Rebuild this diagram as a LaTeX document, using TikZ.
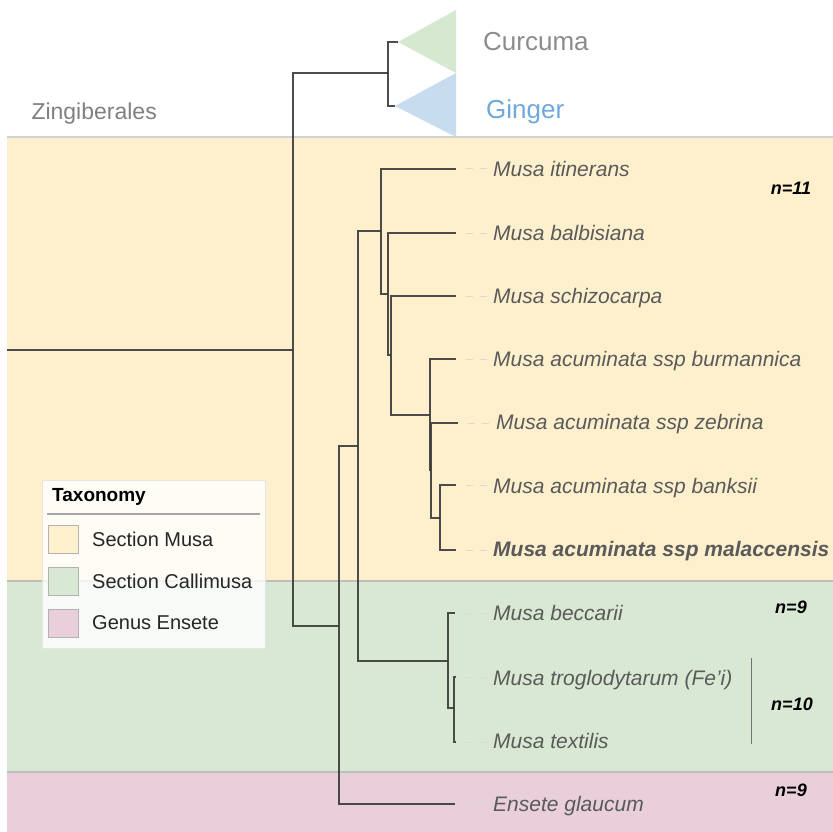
\documentclass[tikz,border=0pt]{standalone}
\usepackage{fontspec}
\setmainfont{Liberation Sans}
\definecolor{bandY}{HTML}{FEF0CD}
\definecolor{bandG}{HTML}{D9E8D3}
\definecolor{bandP}{HTML}{E8CFDA}
\definecolor{bandLine}{HTML}{BDBDBD}
\definecolor{treeC}{HTML}{3A3A3A}
\definecolor{labC}{HTML}{5A5A5A}
\definecolor{triG}{HTML}{D5E8D0}
\definecolor{triB}{HTML}{C8DCF0}
\definecolor{curC}{HTML}{8C8C8C}
\definecolor{ginC}{HTML}{6FA8DC}
\tikzset{
  br/.style={draw=treeC,line width=1.2pt,opacity=0.9},
  leader/.style={draw=black!15,line width=1pt,dash pattern=on 7pt off 7pt},
  leaf/.style={anchor=base west,inner sep=0pt,text=labC,font=\fontsize{21}{24}\selectfont\itshape},
  nlab/.style={inner sep=0pt,font=\fontsize{18}{20}\selectfont\bfseries\itshape},
  legtxt/.style={anchor=west,inner sep=0pt,font=\fontsize{20}{22}\selectfont,text=black!85},
  swatch/.style={draw=black!30,line width=1pt}
}
\begin{document}
\begin{tikzpicture}[x=1pt,y=-1pt]
\useasboundingbox (0,0) rectangle (833,832);
\fill[white] (0,0) rectangle (833,832);
% bands
\fill[bandY] (7,137) rectangle (833,581);
\fill[bandG] (7,581) rectangle (833,772);
\fill[bandP] (7,772) rectangle (833,832);
\draw[bandLine!70,line width=2pt] (7,137) -- (833,137);
\draw[bandLine,line width=2pt] (7,581) -- (833,581);
\draw[bandLine,line width=2pt] (7,772) -- (833,772);
\node[anchor=base east,inner sep=0pt,text=black!50,font=\fontsize{23}{25}\selectfont] (zing) at (157,120) {Zingiberales};
% triangles
\coordinate (tC) at (398,42);
\coordinate (tG) at (395,106);
\fill[triG] (tC) -- (456,10) -- (456,73) -- cycle;
\fill[triB] (tG) -- (456,73) -- (456,137) -- cycle;
\node[anchor=base west,inner sep=0pt,text=curC,font=\fontsize{26}{28}\selectfont] (cur) at (483,51) {Curcuma};
\node[anchor=base west,inner sep=0pt,text=ginC,font=\fontsize{26}{28}\selectfont] (gin) at (486,119) {Ginger};
% tree coordinates
\coordinate (R0) at (7,350);
\coordinate (N1) at (293,350);
\coordinate (Z) at (388,73);
\coordinate (M) at (339,626);
\coordinate (N2) at (358,446);
\coordinate (A) at (381,231);
\coordinate (B) at (388,294);
\coordinate (B2) at (391,355);
\coordinate (AC) at (430,415);
\coordinate (AC2) at (431,470);
\coordinate (AC3) at (440,518);
\coordinate (C) at (448,661);
\coordinate (C2) at (454,708);
\coordinate (l1) at (456,169);
\coordinate (l2) at (456,233);
\coordinate (l3) at (456,296);
\coordinate (l4) at (456,359);
\coordinate (l5) at (458,423);
\coordinate (l6) at (456,485);
\coordinate (l7) at (456,550);
\coordinate (l8) at (455,613);
\coordinate (l9) at (456,677);
\coordinate (l10) at (456,742);
\coordinate (l11) at (455,804);
% branches
\draw[br] (R0) -- (N1);
\draw[br] (N1) |- (Z);
\draw[br] (N1) |- (M);
\draw[br] (Z) |- (tC);
\draw[br] (Z) |- (tG);
\draw[br] (M) |- (N2);
\draw[br] (M) |- (l11);
\draw[br] (N2) |- (A);
\draw[br] (N2) |- (C);
\draw[br] (A) |- (l1);
\draw[br] (A) |- (B);
\draw[br] (B) |- (l2);
\draw[br] (B) |- (B2);
\draw[br] (B2) |- (l3);
\draw[br] (B2) |- (AC);
\draw[br] (AC) |- (l4);
\draw[br] (AC) |- (AC2);
\draw[br] (AC2) |- (l5);
\draw[br] (AC2) |- (AC3);
\draw[br] (AC3) |- (l6);
\draw[br] (AC3) |- (l7);
\draw[br] (C) |- (l8);
\draw[br] (C) |- (C2);
\draw[br] (C2) |- (l9);
\draw[br] (C2) |- (l10);
% leaders
\foreach \l in {l1,l2,l3,l4,l5,l6,l7,l8,l9,l10,l11}
  \draw[leader] ([xshift=10pt]\l) -- ++(26,0);
% labels
\node[leaf] (t1) at (493,176) {Musa itinerans};
\node[leaf] (t2) at (493,240) {Musa balbisiana};
\node[leaf] (t3) at (493,303) {Musa schizocarpa};
\node[leaf] (t4) at (493,366) {Musa acuminata ssp burmannica};
\node[leaf] (t5) at (496,429) {Musa acuminata ssp zebrina};
\node[leaf] (t6) at (493,493) {Musa acuminata ssp banksii};
\node[leaf,font=\fontsize{21}{24}\selectfont\bfseries\itshape] (t7) at (493,556) {Musa acuminata ssp malaccensis};
\node[leaf] (t8) at (493,620) {Musa beccarii};
\node[leaf] (t9) at (493,685) {Musa troglodytarum (Fe'i)};
\node[leaf] (t10) at (493,748) {Musa textilis};
\node[leaf] (t11) at (493,811) {Ensete glaucum};
% chromosome numbers
\node[nlab] (n11) at (791,188) {n=11};
\node[nlab] (n9a) at (791,607) {n=9};
\node[nlab] (n10) at (792,704) {n=10};
\node[nlab] (n9b) at (791,790) {n=9};
\coordinate (bk1) at (751,658);
\coordinate (bk2) at (751,744);
\draw[black!55,line width=1pt] (bk1) -- (bk2);
% legend
\draw[draw=black!10,fill=white,fill opacity=0.8,line width=1pt] (42,480) rectangle (265,648);
\node[anchor=west,inner sep=0pt,font=\fontsize{19}{21}\selectfont\bfseries] (legT) at (52,497) {Taxonomy};
\draw[black!35,line width=2pt] (47,514) -- (260,514);
\filldraw[swatch,fill=bandY] (48,525) rectangle (78,553);
\filldraw[swatch,fill=bandG] (48,567) rectangle (78,595);
\filldraw[swatch,fill=bandP] (48,609) rectangle (78,637);
\node[legtxt] (lg1) at (92,539) {Section Musa};
\node[legtxt] (lg2) at (92,581) {Section Callimusa};
\node[legtxt] (lg3) at (92,623) {Genus Ensete};
\end{tikzpicture}
\end{document}
